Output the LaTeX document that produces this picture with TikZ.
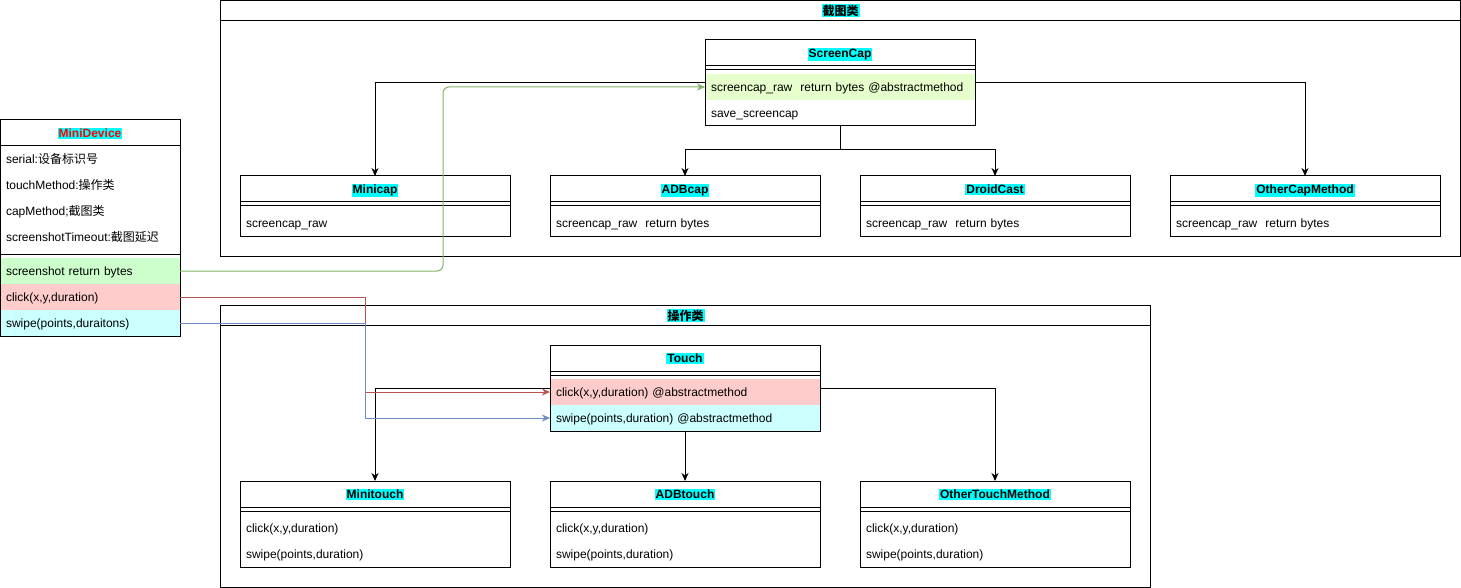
\documentclass[tikz,border=0pt]{standalone}
\usepackage{fontspec}
\setmainfont{Liberation Sans}
\newfontfamily\cjk{Noto Sans CJK SC}
\usetikzlibrary{positioning}
\usetikzlibrary{fit}
\usetikzlibrary{arrows.meta}
\definecolor{hlcyan}{HTML}{00FFFF}
\definecolor{rowgreen}{HTML}{CCFFCC}
\definecolor{rowlime}{HTML}{E6FFCC}
\definecolor{rowred}{HTML}{FFCCCC}
\definecolor{rowcyan}{HTML}{CCFFFF}
\definecolor{edgegreen}{HTML}{82B366}
\definecolor{edgered}{HTML}{B85450}
\definecolor{edgeblue}{HTML}{6C8EBF}
\tikzstyle{header} = [rectangle, draw=black, fill=white, minimum width=270pt,
minimum height=26pt, inner sep=0pt, outer sep=0pt, text height=10pt, text depth=1pt,
font=\fontsize{12}{14}\selectfont\bfseries]
\tikzstyle{sepbox} = [rectangle, minimum width=270pt, minimum height=8pt, inner sep=0pt, outer sep=0pt]
\tikzstyle{member} = [rectangle, minimum height=26pt, text width=258pt, inner xsep=6pt,
inner ysep=0pt, outer sep=0pt, align=left, text height=10pt, text depth=1pt,
font=\fontsize{12}{14}\selectfont]
\tikzstyle{classbox} = [rectangle, draw=black, inner sep=0pt, outer sep=0pt]
\tikzstyle{lane} = [rectangle, draw=black, fill=white, anchor=north west, inner sep=0pt, outer sep=0pt]
\tikzstyle{lanehead} = [lane, minimum height=20pt, font=\fontsize{12}{14}\selectfont\bfseries]
\tikzset{>={Stealth[length=8pt,width=7pt,inset=2.5pt]}}
\newcommand{\titlebg}[1]{{\setlength{\fboxsep}{1pt}\colorbox{hlcyan}{#1}}}
\newcommand{\umlclass}[5]{ %
  % Class #1 at #2 titled #3, with #4 members given as fill/text in #5.
  \node[header] (#1) at (#2) {\titlebg{#3}};
  \node[sepbox, below=0pt of #1] (#1-0) {};
  \draw (#1-0.west) -- (#1-0.east);
  \foreach \f/\t [count=\i, remember=\i as \j (initially 0)] in {#5} { %
    \node[member, fill=\f, below=0pt of #1-\j] (#1-\i) {\t};
  } ;
  \node[classbox, fit=(#1)(#1-#4)] (#1-box) {};
}

\begin{document}
\begin{tikzpicture}[x=1pt, y=-1pt, line width=1pt]
  \useasboundingbox (0,0) rectangle (1461,588);

  % lanes
  \node[lane, minimum width=1240pt, minimum height=256pt] (caplane) at (220.5,0.5) {};
  \node[lanehead, minimum width=1240pt] (caplane-h) at (caplane.north west) {\titlebg{\cjk 截图类}};
  \node[lane, minimum width=930pt, minimum height=282pt] (touchlane) at (220.5,305.5) {};
  \node[lanehead, minimum width=930pt] (touchlane-h) at (touchlane.north west) {\titlebg{\cjk 操作类}};

  % screenshot classes
  \umlclass{screencap}{840,53}{ScreenCap}{2}{rowlime/{screencap\_raw~ return bytes @abstractmethod},
    white/save\_screencap}
  \umlclass{minicap}{375,189}{Minicap}{1}{white/screencap\_raw}
  \umlclass{adbcap}{685,189}{ADBcap}{1}{white/{screencap\_raw~ return bytes}}
  \umlclass{droidcast}{995,189}{DroidCast}{1}{white/{screencap\_raw~ return bytes}}
  \umlclass{othercap}{1305,189}{OtherCapMethod}{1}{white/{screencap\_raw~ return bytes}}

  % touch classes
  \umlclass{touch}{685,358}{Touch}{2}{rowred/{click(x,y,duration) @abstractmethod},
    rowcyan/{swipe(points,duration) @abstractmethod}}
  \umlclass{minitouch}{375,494}{Minitouch}{2}{white/{click(x,y,duration)},
    white/{swipe(points,duration)}}
  \umlclass{adbtouch}{685,494}{ADBtouch}{2}{white/{click(x,y,duration)},
    white/{swipe(points,duration)}}
  \umlclass{othertouch}{995,494}{OtherTouchMethod}{2}{white/{click(x,y,duration)},
    white/{swipe(points,duration)}}

  % device
  \node[header, minimum width=180pt, text=red] (minidev) at (90,133) {\titlebg{MiniDevice}};
  \node[member, text width=168pt, below=0pt of minidev] (minidev-1) {serial:{\cjk 设备标识号}};
  \node[member, text width=168pt, below=0pt of minidev-1] (minidev-2) {touchMethod:{\cjk 操作类}};
  \node[member, text width=168pt, below=0pt of minidev-2] (minidev-3) {capMethod;{\cjk 截图类}};
  \node[member, text width=168pt, below=0pt of minidev-3] (minidev-4) {screenshotTimeout:{\cjk 截图延迟}};
  \node[sepbox, minimum width=180pt, below=0pt of minidev-4] (minidev-0) {};
  \draw (minidev-0.west) -- (minidev-0.east);
  \node[member, text width=168pt, fill=rowgreen, below=0pt of minidev-0] (minidev-5) {screenshot return bytes};
  \node[member, text width=168pt, fill=rowred, below=0pt of minidev-5] (minidev-6) {click(x,y,duration)};
  \node[member, text width=168pt, fill=rowcyan, below=0pt of minidev-6] (minidev-7) {swipe(points,duraitons)};
  \node[classbox, fit=(minidev)(minidev-7)] (minidev-box) {};

  % inheritance
  \draw[->] (screencap-box.west) -| (minicap.north);
  \draw[->] (screencap-box.east) -| (othercap.north);
  \draw[->] (screencap-box.south) -- ++(0,24) -| (adbcap.north);
  \draw[->] (screencap-box.south) -- ++(0,24) -| (droidcast.north);
  \draw[->] (touch-box.west) -| (minitouch.north);
  \draw[->] (touch-box.east) -| (othertouch.north);
  \draw[->] (touch-box.south) -- (adbtouch.north);

  % calls
  \coordinate (gbend) at (443,87);
  \coordinate (rbend) at (365,392);
  \coordinate (bbend) at (365,418);
  \draw[->, edgegreen, rounded corners=6pt] (minidev-5.east) -| (gbend) -- (screencap-1.west);
  \draw[->, edgered] (minidev-6.east) -| (rbend) -- (touch-1.west);
  \draw[->, edgeblue] (minidev-7.east) -| (bbend) -- (touch-2.west);
\end{tikzpicture}
\end{document}
